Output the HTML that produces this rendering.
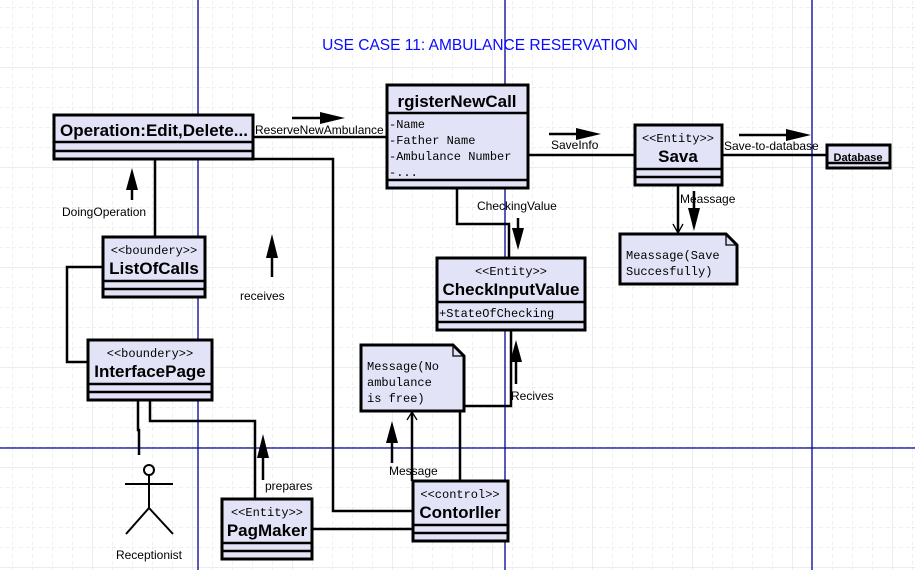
<!DOCTYPE html>
<html><head><meta charset="utf-8"><style>
html,body{margin:0;padding:0;background:#fff;}
svg{display:block;}
.s{font-family:"Liberation Mono",monospace;font-size:12px;}
.b{font-family:"Liberation Sans",sans-serif;font-weight:bold;font-size:17px;}
.l{font-family:"Liberation Sans",sans-serif;font-size:12px;}
</style></head><body>
<svg width="915" height="570" xmlns="http://www.w3.org/2000/svg">
<defs>
<pattern id="g" x="12" y="7" width="20" height="20" patternUnits="userSpaceOnUse">
<path d="M0 0H20M0 0V20" stroke="#dde3e3" stroke-width="1" stroke-dasharray="4,3" fill="none"/>
</pattern>
<pattern id="G" x="92" y="67" width="100" height="100" patternUnits="userSpaceOnUse">
<path d="M0 0H100M0 0V100" stroke="#d6dede" stroke-width="1" fill="none"/>
</pattern>
</defs>
<rect width="915" height="570" fill="url(#g)"/>
<rect width="915" height="570" fill="url(#G)"/>
<g stroke="#00009a" stroke-width="1.3">
<line x1="198" y1="0" x2="198" y2="570"/><line x1="505" y1="0" x2="505" y2="570"/><line x1="812" y1="0" x2="812" y2="570"/><line x1="0" y1="448" x2="915" y2="448"/>
</g>
<text x="480" y="50" text-anchor="middle" fill="#0a0aff" font-family="Liberation Sans,sans-serif" font-size="15.5">USE CASE 11: AMBULANCE RESERVATION</text>

<g stroke="#000" stroke-width="2.5" fill="none">
<path d="M253 137H387"/>
<path d="M253 159H333V511H418"/>
<path d="M155 159V237"/>
<path d="M103 267H67V362H88"/>
<path d="M138 400V430H139V455"/>
<path d="M150 400V421H255V499"/>
<path d="M312 529H416V522H420"/>
<path d="M460 481V406H511V330"/>
<path d="M412 481V413"/>
<path d="M457 188V224H509V258"/>
<path d="M528 155H635"/>
<path d="M722 155H827"/>
<path d="M678 185V232"/>
<path d="M292 118H325"/><path d="M549 134H580"/><path d="M739 135H790"/>
<path d="M132 200V185"/><path d="M272 277V255"/><path d="M263 480V455"/>
<path d="M392 463V440"/><path d="M516 384V360"/>
<path d="M518 218V232"/><path d="M694 191V210"/>
</g>
<g fill="#000">
<polygon points="320,112 345,118 320,124"/>
<polygon points="576,128 601,134 576,140"/>
<polygon points="786,129 811,135 786,141"/>
<polygon points="126,190 132,168 138,190"/>
<polygon points="266,258 272,234 278,258"/>
<polygon points="257,458 263,434 269,458"/>
<polygon points="386,443 392,421 398,443"/>
<polygon points="510,362 516,340 522,362"/>
<polygon points="512,228 518,250 524,228"/>
<polygon points="688,208 694,231 700,208"/>
</g>
<g stroke="#000" stroke-width="1.3" fill="none">
<path d="M407 420L412 412L417 420"/>
<path d="M673 224L678 233L683 224"/>
</g>

<g stroke="#000" stroke-width="3" fill="#e3e3f7">
<rect x="54" y="115" width="199" height="44"/>
<rect x="387" y="85" width="141" height="103"/>
<rect x="103" y="237" width="102" height="60"/>
<rect x="88" y="340" width="124" height="60"/>
<rect x="437" y="258" width="148" height="72"/>
<rect x="635" y="125" width="87" height="60"/>
<rect x="827" y="145" width="63" height="23"/>
<rect x="222" y="499" width="90" height="60"/>
<rect x="413" y="481" width="95" height="60"/>
<path d="M361 345H453L464 356V411H361Z"/>
<path d="M620 234H726L737 245V284H620Z"/>
</g>
<g stroke="#000" stroke-width="2.5" fill="none">
<path d="M54 142H253M54 151H253"/>
<path d="M387 113H528M387 180H528"/>
<path d="M103 281H205M103 289H205"/>
<path d="M88 384H212M88 392H212"/>
<path d="M437 302H585M437 322H585"/>
<path d="M635 169H722M635 177H722"/>
<path d="M827 163H890"/>
<path d="M222 543H312M222 551H312"/>
<path d="M413 525H508M413 533H508"/>
<path d="M453 345V356H464M726 234V245H737" stroke-width="1.3"/>
</g>

<g stroke="#000" stroke-width="2" fill="none">
<circle cx="149" cy="470" r="5"/>
<path d="M149 475V508M125 484H173M126 534L149 508L173 534"/>
</g>

<text class="b" x="154" y="136" text-anchor="middle">Operation:Edit,Delete...</text>
<text class="b" x="457" y="107" text-anchor="middle">rgisterNewCall</text>
<text class="s" x="389" y="128">-Name</text>
<text class="s" x="389" y="144">-Father Name</text>
<text class="s" x="389" y="160">-Ambulance Number</text>
<text class="s" x="389" y="176">-...</text>
<text class="s" x="154" y="254" text-anchor="middle">&lt;&lt;boundery&gt;&gt;</text>
<text class="b" x="154" y="274" text-anchor="middle">ListOfCalls</text>
<text class="s" x="150" y="357" text-anchor="middle">&lt;&lt;boundery&gt;&gt;</text>
<text class="b" x="150" y="377" text-anchor="middle">InterfacePage</text>
<text class="s" x="511" y="275" text-anchor="middle">&lt;&lt;Entity&gt;&gt;</text>
<text class="b" x="511" y="295" text-anchor="middle">CheckInputValue</text>
<text class="s" x="439" y="317">+StateOfChecking</text>
<text class="s" x="678" y="142" text-anchor="middle">&lt;&lt;Entity&gt;&gt;</text>
<text class="b" x="678" y="162" text-anchor="middle">Sava</text>
<text x="858" y="161" text-anchor="middle" font-family="Liberation Sans,sans-serif" font-weight="bold" font-size="11">Database</text>
<text class="s" x="267" y="516" text-anchor="middle">&lt;&lt;Entity&gt;&gt;</text>
<text class="b" x="267" y="536" text-anchor="middle">PagMaker</text>
<text class="s" x="460" y="498" text-anchor="middle">&lt;&lt;control&gt;&gt;</text>
<text class="b" x="460" y="518" text-anchor="middle">Contorller</text>
<text class="s" x="367" y="370" font-size="11">Message(No</text>
<text class="s" x="367" y="386" font-size="11">ambulance</text>
<text class="s" x="367" y="402" font-size="11">is free)</text>
<text class="s" x="626" y="259" font-size="11">Meassage(Save</text>
<text class="s" x="626" y="275" font-size="11">Succesfully)</text>
<text class="l" x="255" y="134">ReserveNewAmbulance</text>
<text class="l" x="62" y="216">DoingOperation</text>
<text class="l" x="240" y="300">receives</text>
<text class="l" x="477" y="210">CheckingValue</text>
<text class="l" x="551" y="149">SaveInfo</text>
<text class="l" x="724" y="150">Save-to-database</text>
<text class="l" x="680" y="203">Meassage</text>
<text class="l" x="511" y="400">Recives</text>
<text class="l" x="389" y="475">Message</text>
<text class="l" x="265" y="490">prepares</text>
<text class="l" x="149" y="559" text-anchor="middle">Receptionist</text>
</svg>
</body></html>
